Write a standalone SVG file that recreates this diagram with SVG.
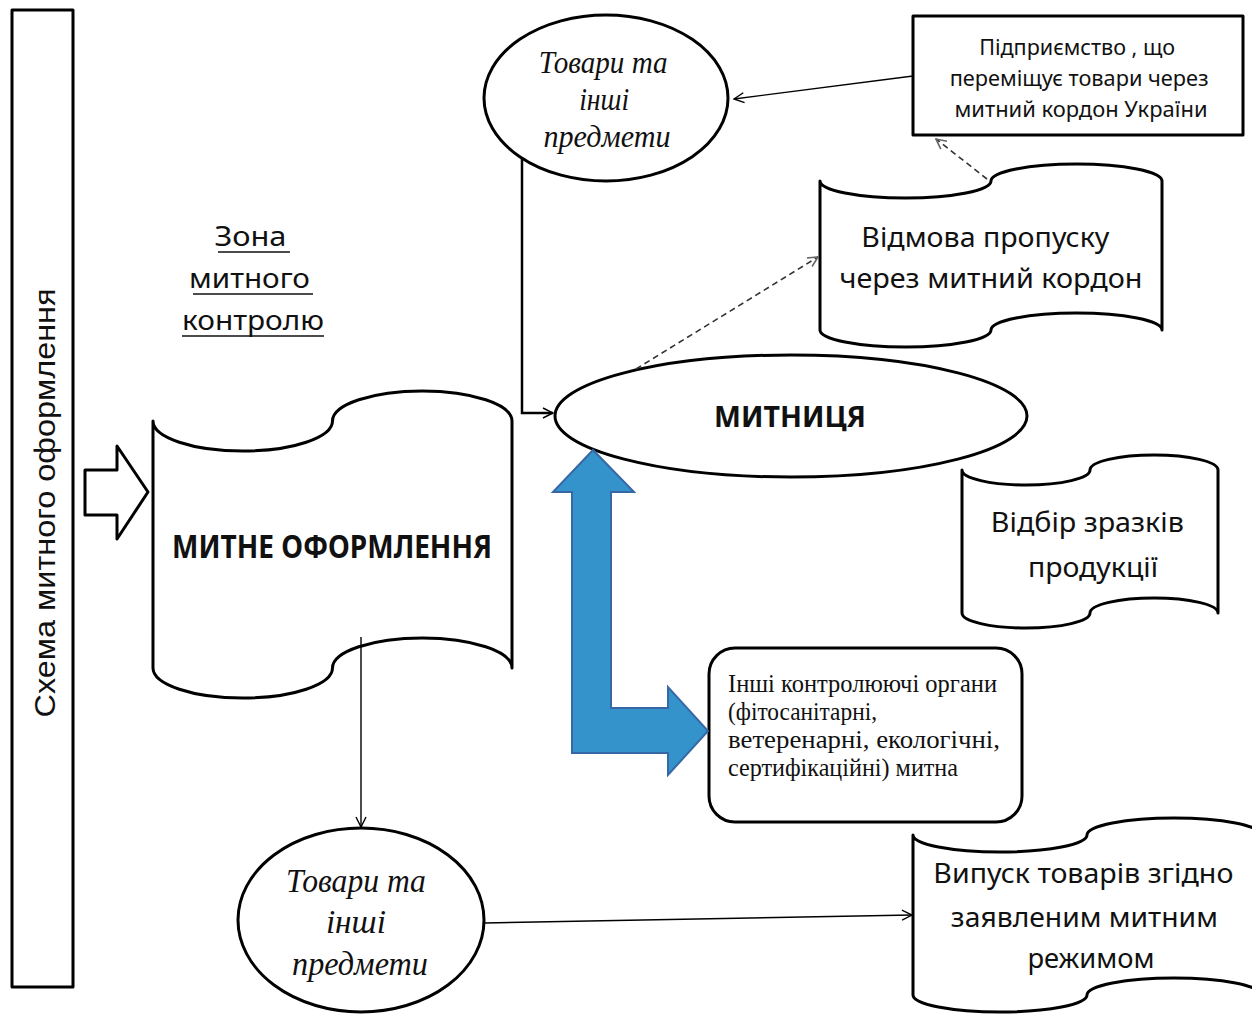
<svg xmlns="http://www.w3.org/2000/svg" width="1252" height="1014" viewBox="0 0 1252 1014">
<defs>
<style>
.shape{fill:#fff;stroke:#000;stroke-width:3;stroke-linejoin:round}
.sans{font-family:"Noto Sans","Open Sans",sans-serif;fill:#111}
.arial{font-family:"Liberation Sans",Arial,sans-serif;fill:#111}
.serif{font-family:"Liberation Serif","DejaVu Serif",serif;fill:#111}
.it{font-family:"Liberation Serif","DejaVu Serif",serif;font-style:italic;fill:#111}
.thin{fill:none;stroke:#000;stroke-width:1.4}
.dash{fill:none;stroke:#333;stroke-width:1.6;stroke-dasharray:6 4}
.ul{stroke:#111;stroke-width:1.6}
</style>
<marker id="arr" viewBox="0 0 12 12" refX="11" refY="6" markerWidth="12" markerHeight="12" markerUnits="userSpaceOnUse" orient="auto">
<path d="M1,1 L11,6 L1,11" fill="none" stroke="#000" stroke-width="1.4"/>
</marker>
<marker id="arrg" viewBox="0 0 12 12" refX="11" refY="6" markerWidth="12" markerHeight="12" markerUnits="userSpaceOnUse" orient="auto">
<path d="M1,1 L11,6 L1,11" fill="none" stroke="#666" stroke-width="1.6"/>
</marker>
</defs>
<rect width="1252" height="1014" fill="#fff"/>

<g id="scheme">
<rect class="shape" x="12" y="10" width="61" height="977"/>
<text class="arial" transform="translate(55,503) rotate(-90)" text-anchor="middle" font-size="30" textLength="429" lengthAdjust="spacingAndGlyphs">Схема митного оформлення</text>
</g>

<g id="hollow-arrow">
<path class="shape" d="M85,470 L117,470 L117,446 L148,492 L117,539 L117,515 L85,515 Z"/>
</g>

<g id="zone-label">
<text class="sans" font-size="27" text-anchor="middle">
<tspan x="254" y="246" textLength="72" lengthAdjust="spacingAndGlyphs">Зона</tspan>
<tspan x="253" y="288" textLength="121" lengthAdjust="spacingAndGlyphs">митного</tspan>
<tspan x="253" y="330" textLength="142" lengthAdjust="spacingAndGlyphs">контролю</tspan>
</text>
<line class="ul" x1="218" y1="252" x2="290" y2="252"/>
<line class="ul" x1="193" y1="294" x2="313" y2="294"/>
<line class="ul" x1="182" y1="336" x2="324" y2="336"/>
</g>

<g id="customs-clearance">
<path class="shape" d="M153,421 A89.75,30 0 0 0 242.75,451 A89.75,30 0 0 0 332.5,421 A89.75,30 0 0 1 422.25,391 A89.75,30 0 0 1 512,421 L512,668 A89.75,30 0 0 0 422.25,638 A89.75,30 0 0 0 332.5,668 A89.75,30 0 0 1 242.75,698 A89.75,30 0 0 1 153,668 Z"/>
<text class="sans" x="332" y="558" font-size="32" font-weight="bold" text-anchor="middle" textLength="320" lengthAdjust="spacingAndGlyphs">МИТНЕ ОФОРМЛЕННЯ</text>
</g>

<g id="goods-top">
<ellipse class="shape" cx="606" cy="98" rx="122" ry="83"/>
<text class="it" font-size="31" text-anchor="middle">
<tspan x="607" y="73" textLength="129" lengthAdjust="spacingAndGlyphs">Товари та</tspan>
<tspan x="608" y="110" textLength="50" lengthAdjust="spacingAndGlyphs">інші</tspan>
<tspan x="607" y="147" textLength="127" lengthAdjust="spacingAndGlyphs">предмети</tspan>
</text>
</g>

<g id="enterprise">
<rect class="shape" x="913" y="16" width="330" height="119"/>
<text class="sans" font-size="22" text-anchor="middle">
<tspan x="1080" y="55" textLength="196" lengthAdjust="spacingAndGlyphs">Підприємство , що</tspan>
<tspan x="1082" y="86" textLength="259" lengthAdjust="spacingAndGlyphs">переміщує товари через</tspan>
<tspan x="1081" y="117" textLength="253" lengthAdjust="spacingAndGlyphs">митний кордон України</tspan>
</text>
</g>

<g id="refusal">
<path class="shape" d="M820,181 A85.5,17 0 0 0 905.5,198 A85.5,17 0 0 0 991,181 A85.5,17 0 0 1 1076.5,164 A85.5,17 0 0 1 1162,181 L1162,330 A85.5,17 0 0 0 1076.5,313 A85.5,17 0 0 0 991,330 A85.5,17 0 0 1 905.5,347 A85.5,17 0 0 1 820,330 Z"/>
<text class="sans" font-size="28" text-anchor="middle">
<tspan x="989" y="247" textLength="248" lengthAdjust="spacingAndGlyphs">Відмова пропуску</tspan>
<tspan x="991" y="288" textLength="303" lengthAdjust="spacingAndGlyphs">через митний кордон</tspan>
</text>
</g>

<g id="customs">
<ellipse class="shape" cx="791" cy="416" rx="236" ry="61"/>
<text class="sans" x="790" y="427" font-size="29" font-weight="bold" text-anchor="middle" textLength="152" lengthAdjust="spacingAndGlyphs">МИТНИЦЯ</text>
</g>

<g id="sampling">
<path class="shape" d="M962,470 A64,15 0 0 0 1026,485 A64,15 0 0 0 1090,470 A64,15 0 0 1 1154,455 A64,15 0 0 1 1218,470 L1218,613 A64,15 0 0 0 1154,598 A64,15 0 0 0 1090,613 A64,15 0 0 1 1026,628 A64,15 0 0 1 962,613 Z"/>
<text class="sans" font-size="28" text-anchor="middle">
<tspan x="1091" y="532" textLength="193" lengthAdjust="spacingAndGlyphs">Відбір зразків</tspan>
<tspan x="1093" y="577" textLength="130" lengthAdjust="spacingAndGlyphs">продукції</tspan>
</text>
</g>

<g id="other-bodies">
<rect class="shape" x="709" y="648" width="313" height="174" rx="26" ry="26"/>
<text class="serif" font-size="25">
<tspan x="728" y="692" textLength="269" lengthAdjust="spacingAndGlyphs">Інші контролюючі органи</tspan>
<tspan x="728" y="720" textLength="149" lengthAdjust="spacingAndGlyphs">(фітосанітарні,</tspan>
<tspan x="728" y="748" textLength="272" lengthAdjust="spacingAndGlyphs">ветеренарні, екологічні,</tspan>
<tspan x="728" y="776" textLength="230" lengthAdjust="spacingAndGlyphs">сертифікаційні) митна</tspan>
</text>
</g>

<g id="goods-bottom">
<ellipse class="shape" cx="361" cy="920" rx="123" ry="92"/>
<text class="it" font-size="33" text-anchor="middle">
<tspan x="360" y="892" textLength="140" lengthAdjust="spacingAndGlyphs">Товари та</tspan>
<tspan x="360" y="933" textLength="60" lengthAdjust="spacingAndGlyphs">інші</tspan>
<tspan x="360" y="975" textLength="136" lengthAdjust="spacingAndGlyphs">предмети</tspan>
</text>
</g>

<g id="release">
<path class="shape" d="M913,835 A87,17 0 0 0 1000,852 A87,17 0 0 0 1087,835 A87,17 0 0 1 1174,818 A87,17 0 0 1 1261,835 L1261,995 A87,17 0 0 0 1174,978 A87,17 0 0 0 1087,995 A87,17 0 0 1 1000,1012 A87,17 0 0 1 913,995 Z"/>
<text class="sans" font-size="28" text-anchor="middle">
<tspan x="1087" y="883" textLength="300" lengthAdjust="spacingAndGlyphs">Випуск товарів згідно</tspan>
<tspan x="1088" y="927" textLength="267" lengthAdjust="spacingAndGlyphs">заявленим митним</tspan>
<tspan x="1091" y="968" textLength="127" lengthAdjust="spacingAndGlyphs">режимом</tspan>
</text>
</g>

<g id="connectors">
<path d="M522,158 L522,413 L553,413" fill="none" stroke="#000" stroke-width="2.5" marker-end="url(#arr)"/>
<line class="thin" x1="913" y1="76" x2="734" y2="99" marker-end="url(#arr)"/>
<line class="dash" x1="987" y1="179" x2="936" y2="139" marker-end="url(#arrg)"/>
<line class="dash" x1="636" y1="369" x2="818" y2="257" marker-end="url(#arrg)"/>
<line class="thin" x1="361" y1="637" x2="361" y2="827" marker-end="url(#arr)"/>
<line class="thin" x1="485" y1="923" x2="912" y2="915" marker-end="url(#arr)"/>
<path d="M593,450 L634,492 L611,492 L611,708 L668,708 L668,687 L708,731 L668,775 L668,753 L572,753 L572,492 L553,492 Z" fill="#3593CB" stroke="#3768A6" stroke-width="2" stroke-linejoin="miter"/>
</g>
</svg>
